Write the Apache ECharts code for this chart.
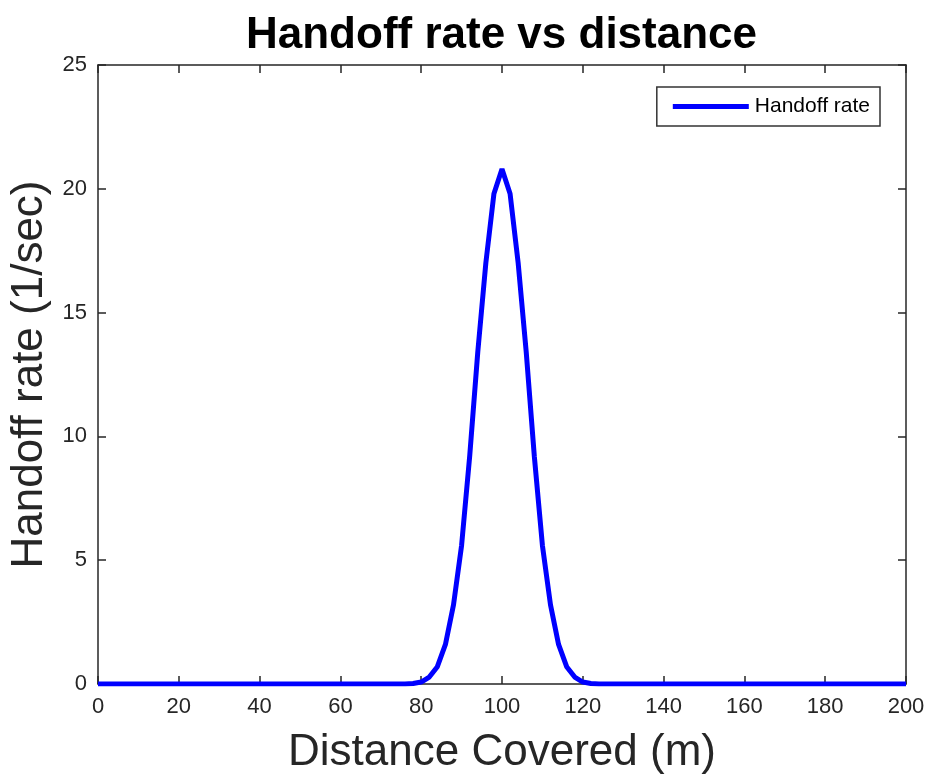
<!DOCTYPE html>
<html>
<head>
<meta charset="utf-8">
<title>Handoff rate vs distance</title>
<script src="https://cdn.jsdelivr.net/npm/echarts@6/dist/echarts.min.js"></script>
<style>
  html, body { margin: 0; padding: 0; background: #fff; }
  #chart { width: 927px; height: 778px; }
</style>
</head>
<body>
<div id="chart"></div>
<script>
  // distance covered (m), sampled every 2 m
  const distance = [];
  for (let d = 0; d <= 200; d += 2) distance.push(d);

  // handoff rate (1/sec)
  const handoffRate = [
    0, 0, 0, 0, 0, 0, 0, 0, 0, 0,          // 0 - 18
    0, 0, 0, 0, 0, 0, 0, 0, 0, 0,          // 20 - 38
    0, 0, 0, 0, 0, 0, 0, 0, 0, 0,          // 40 - 58
    0, 0, 0, 0, 0, 0, 0, 0, 0, 0.02,       // 60 - 78
    0.08, 0.28, 0.7, 1.6, 3.2, 5.6, 9.2, 13.4, 17.0, 19.8,   // 80 - 98
    20.8,                                  // 100
    19.8, 17.0, 13.4, 9.2, 5.6, 3.2, 1.6, 0.7, 0.28, 0.08,   // 102 - 120
    0.02, 0, 0, 0, 0, 0, 0, 0, 0, 0,       // 122 - 140
    0, 0, 0, 0, 0, 0, 0, 0, 0, 0,          // 142 - 160
    0, 0, 0, 0, 0, 0, 0, 0, 0, 0,          // 162 - 180
    0, 0, 0, 0, 0, 0, 0, 0, 0, 0           // 182 - 200
  ];

  const font = '"Liberation Sans", Arial, Helvetica, sans-serif';
  const axisColor = '#262626';

  const chart = echarts.init(document.getElementById('chart'), null, { renderer: 'canvas' });

  // shared look of the four box edges (ticks pointing inward, like MATLAB)
  const boxAxis = {
    type: 'value',
    axisLine: { show: true, onZero: false, lineStyle: { color: axisColor, width: 1.5 } },
    axisTick: { show: true, inside: true, length: 8, lineStyle: { color: axisColor, width: 1.5 } },
    splitLine: { show: false }
  };

  const option = {
    animation: false,
    backgroundColor: '#ffffff',
    title: {
      text: 'Handoff rate vs distance',
      left: 241,
      top: 9,
      textStyle: { fontFamily: font, fontSize: 44, fontWeight: 'bold', color: '#000' }
    },
    legend: {
      right: 47,
      top: 87,
      padding: [9, 10, 9, 16],
      itemWidth: 76,
      itemHeight: 5,
      itemGap: 0,
      icon: 'rect',
      backgroundColor: '#fff',
      borderColor: '#333',
      borderWidth: 1.5,
      borderRadius: 0,
      textStyle: { fontFamily: font, fontSize: 21, color: '#000', padding: [0, 0, 0, 1] },
      data: ['Handoff rate']
    },
    grid: { left: 98, right: 21, top: 65, bottom: 94, outerBoundsMode: 'none', containLabel: false },
    xAxis: [
      Object.assign({}, boxAxis, {
        min: 0, max: 200, interval: 20,
        position: 'bottom',
        name: 'Distance Covered (m)',
        nameLocation: 'middle',
        nameGap: 47,
        nameTextStyle: { fontFamily: font, fontSize: 44, color: axisColor },
        axisLabel: { fontFamily: font, fontSize: 22, color: axisColor, margin: 12 }
      }),
      Object.assign({}, boxAxis, {
        min: 0, max: 200, interval: 20,
        position: 'top',
        axisLabel: { show: false }
      })
    ],
    yAxis: [
      Object.assign({}, boxAxis, {
        min: 0, max: 25, interval: 5,
        position: 'left',
        name: 'Handoff rate (1/sec)',
        nameLocation: 'middle',
        nameGap: 46,
        nameTextStyle: { fontFamily: font, fontSize: 44, color: axisColor },
        axisLabel: { fontFamily: font, fontSize: 22, color: axisColor, margin: 11 }
      }),
      Object.assign({}, boxAxis, {
        min: 0, max: 25, interval: 5,
        position: 'right',
        axisLabel: { show: false }
      })
    ],
    series: [
      {
        name: 'Handoff rate',
        type: 'line',
        xAxisIndex: 0,
        yAxisIndex: 0,
        symbol: 'none',
        smooth: false,
        lineStyle: { color: '#0000ff', width: 5 },
        itemStyle: { color: '#0000ff' },
        data: distance.map((d, i) => [d, handoffRate[i]])
      }
    ]
  };

  chart.setOption(option);
</script>
</body>
</html>
